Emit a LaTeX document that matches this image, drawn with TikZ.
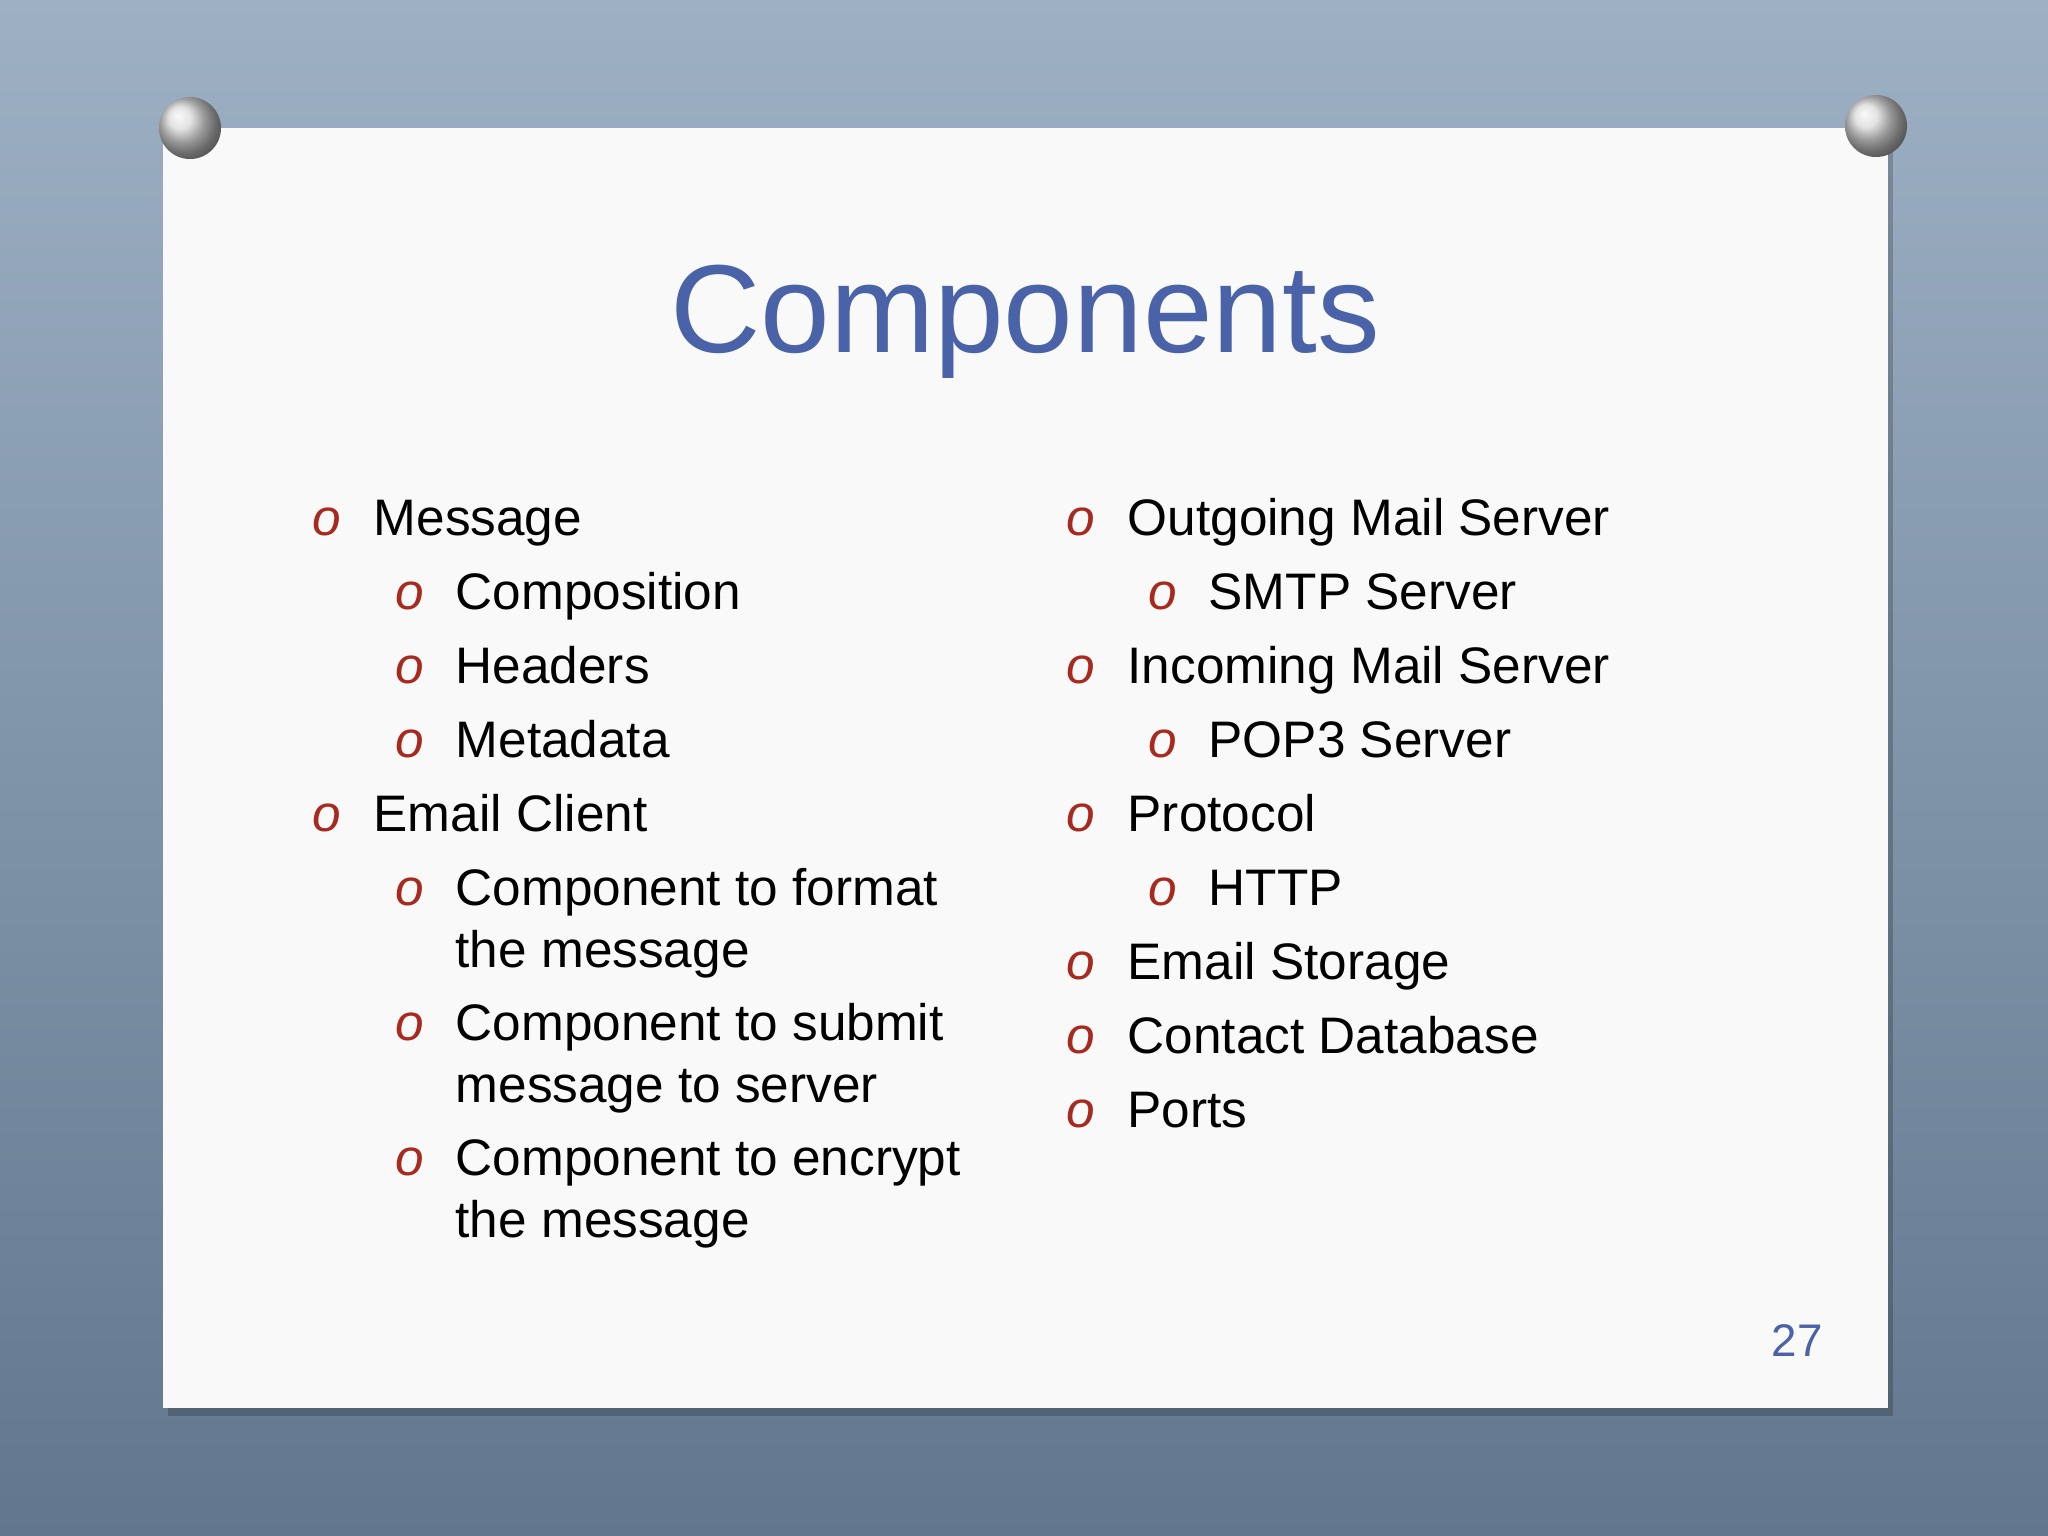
\documentclass[tikz,border=0pt]{standalone}
\usepackage{fontspec}
\setmainfont{Liberation Sans}
\begin{document}
\begin{tikzpicture}[x=0.01cm,y=-0.01cm,
  txt/.style={anchor=base west,inner sep=0pt,font=\fontsize{14.6pt}{17pt}\selectfont},
  bul/.style={anchor=base west,inner sep=0pt,font=\fontsize{14.6pt}{17pt}\selectfont\itshape,text=bulred},
  pin/.style={circle,inner sep=0pt,minimum size=0.62cm,shading=ball,ball color=gray!30!white}]
\definecolor{bulred}{HTML}{A8291E}
\definecolor{titblue}{HTML}{4A63A8}
\definecolor{bgtop}{HTML}{9DB0C4}
\definecolor{bgbot}{HTML}{62778E}
\useasboundingbox (0,0) rectangle (2048,1536);
\shade[top color=bgtop,bottom color=bgbot] (0,0) rectangle (2048,1536);
\fill[black,opacity=0.2] (168,134) rectangle (1893,1416);
\fill[white!95!gray] (163,128) rectangle (1888,1408);
\node[pin] (p1) at (190,128) {};
\node[pin] (p2) at (1876,126) {};
\node[inner sep=0pt,font=\fontsize{35.6pt}{40pt}\selectfont,text=titblue] (title) at (1025,322) {Components};
% left column (baselines)
\foreach \y/\t [count=\i] in {535/Message,831/Email Client}{
  \node[bul] (lb\i) at (312,\y) {o};
  \node[txt] (lt\i) at (373,\y) {\t};}
\foreach \y/\t [count=\i] in {609/Composition,683/Headers,757/Metadata}{
  \node[bul] (ls\i) at (395,\y) {o};
  \node[txt] (lst\i) at (455,\y) {\t};}
\foreach \y/\a/\b [count=\i] in {905/Component to format/the message,1040/Component to submit/message to server,1175/Component to encrypt/the message}{
  \node[bul] (lm\i) at (395,\y) {o};
  \node[txt] (lma\i) at (455,\y) {\a};
  \node[txt] (lmb\i) at (455,\y+62) {\b};}
% right column
\foreach \y/\t [count=\i] in {535/Outgoing Mail Server,683/Incoming Mail Server,831/Protocol,979/Email Storage,1053/Contact Database,1127/Ports}{
  \node[bul] (rb\i) at (1066,\y) {o};
  \node[txt] (rt\i) at (1127,\y) {\t};}
\foreach \y/\t [count=\i] in {609/SMTP Server,757/POP3 Server,905/HTTP}{
  \node[bul] (rs\i) at (1148,\y) {o};
  \node[txt] (rst\i) at (1208,\y) {\t};}
\node[inner sep=0pt,font=\fontsize{13pt}{16pt}\selectfont,text=titblue] (pg) at (1797,1341) {27};
\end{tikzpicture}
\end{document}
